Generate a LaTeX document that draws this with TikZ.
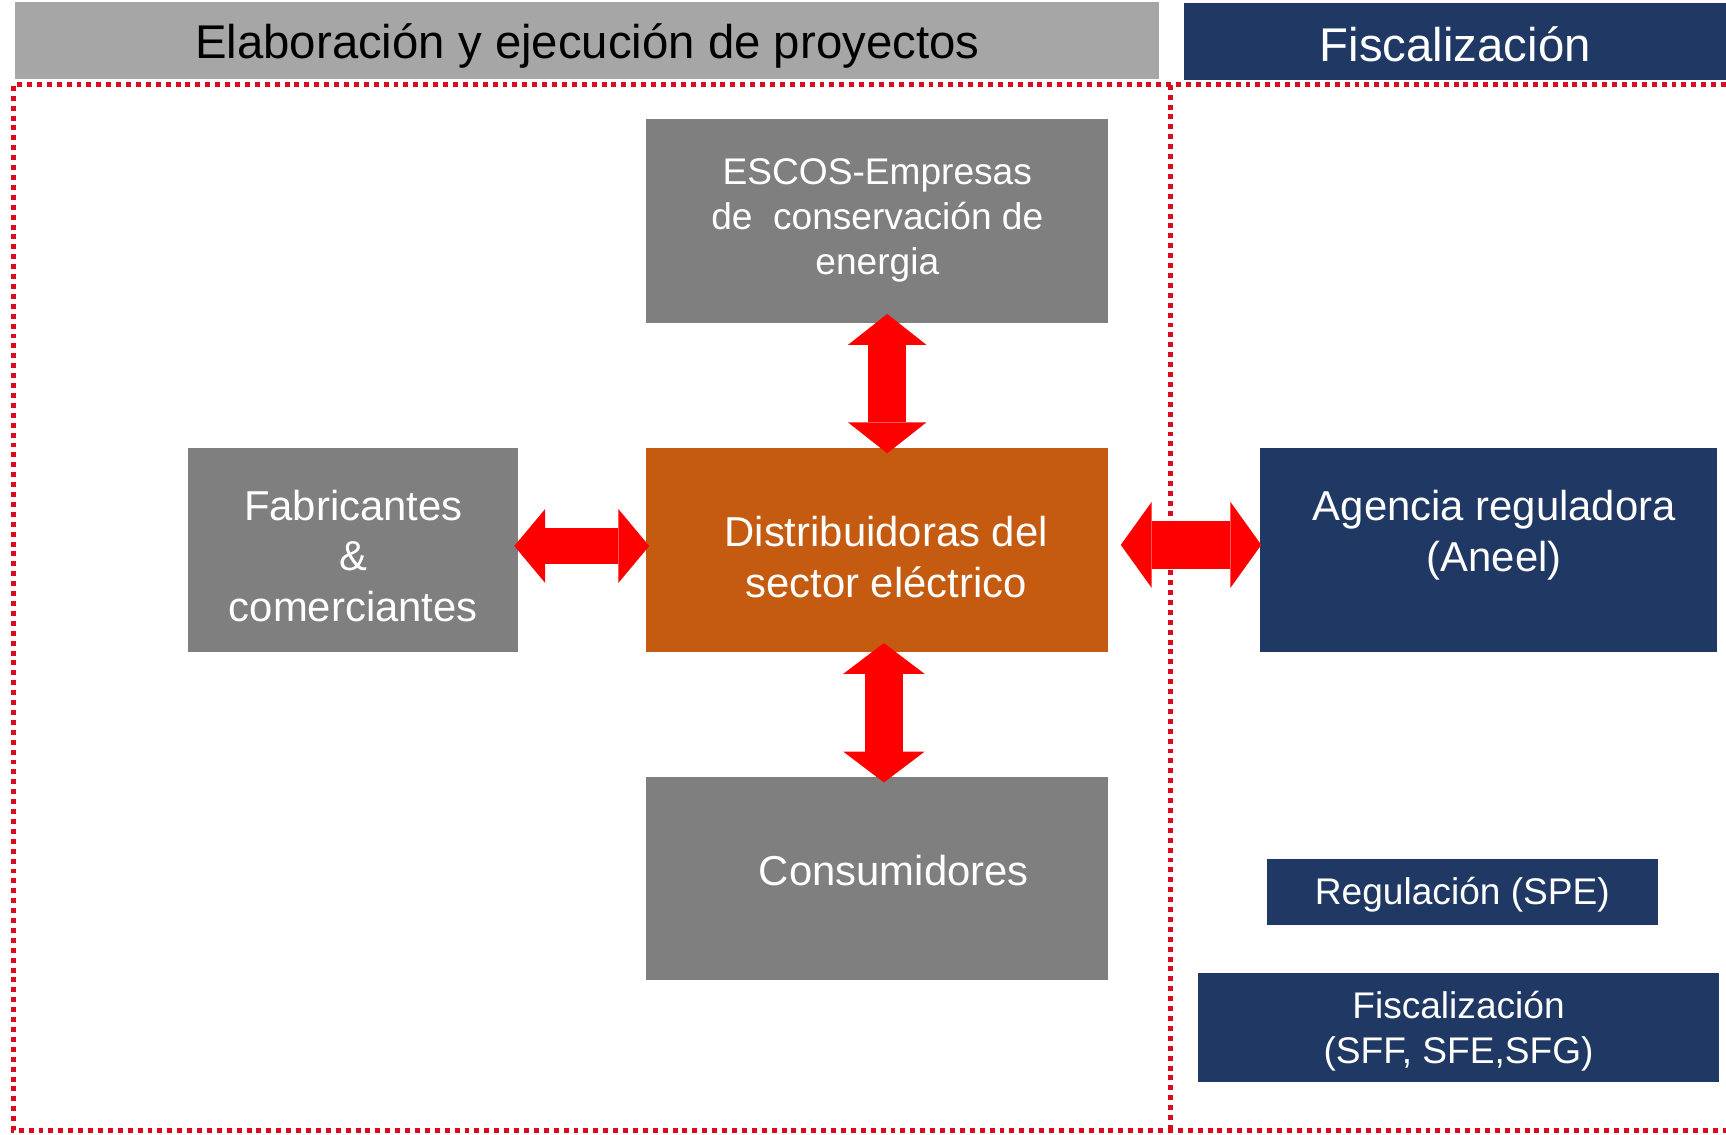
\documentclass[tikz,border=0pt]{standalone}
\usepackage{fontspec}
\setmainfont{Liberation Sans}
\usetikzlibrary{arrows.meta}
\definecolor{hgray}{HTML}{A6A6A6}
\definecolor{bgray}{HTML}{7F7F7F}
\definecolor{borange}{HTML}{C55A11}
\definecolor{navy}{HTML}{203864}
\definecolor{dotred}{HTML}{DC0A1E}
\begin{document}
\begin{tikzpicture}[x=1pt,y=-1pt,
  box/.style={rectangle, inner sep=0pt, text=white, align=center, font=\fontsize{38}{46}\selectfont},
  small/.style={font=\fontsize{33.7}{41}\selectfont},
  head/.style={font=\fontsize{43}{50}\selectfont, minimum height=70pt, text depth=0pt},
  reddots/.style={draw=dotred, line width=4.5pt, dash pattern=on 4.5pt off 4.5pt},
  twoway/.style 2 args={draw=red, line width=#1,
    {Triangle[width=#2,length=28pt,line width=0pt]}-{Triangle[width=#2,length=28pt,line width=0pt]}}]
\useasboundingbox (0,0) rectangle (1568,1031);
\node[box, head, fill=hgray, text=black, minimum width=1039pt, text height=33pt] (h1) at (533.5,37) {Elaboración y ejecución de proyectos};
\node[box, head, fill=navy, minimum width=492pt, text height=35pt] (h2) at (1322,38) {Fiscalización};
\draw[reddots] (1568,77) -- (12,77) -- (12,1027) -- (1568,1027);
\draw[reddots] (1063,77) -- (1063,1027);
\node[box, small, fill=bgray, minimum width=420pt, minimum height=185pt] (esc) at (797,200.5) {ESCOS-Empresas\\de\ \ conservación de\\energia};
\node[box, fill=bgray, minimum width=300pt, minimum height=185pt, text height=130pt, text depth=0pt] (fab) at (321,499.5) {Fabricantes\\\&\\comerciantes};
\node[box, fill=borange, minimum width=420pt, minimum height=185pt, text height=86pt, text depth=0pt] (dis) at (797,499.5) {\hspace*{16pt}Distribuidoras del\\\hspace*{16pt}sector eléctrico};
\node[box, fill=bgray, minimum width=420pt, minimum height=184pt, text height=27pt, text depth=14pt] (con) at (797,798) {\hspace*{30pt}Consumidores};
\node[box, fill=navy, minimum width=415pt, minimum height=185pt, text depth=34pt] (age) at (1352.5,499.5) {\hspace*{10pt}Agencia reguladora\\\hspace*{10pt}(Aneel)};
\node[box, small, fill=navy, minimum width=355pt, minimum height=60pt, text height=24pt, text depth=0pt] (reg) at (1328.5,810) {Regulación (SPE)};
\node[box, small, fill=navy, minimum width=474pt, minimum height=99pt, text depth=0pt] (fis) at (1325,933.5) {Fiscalización\\(SFF, SFE,SFG)};
\draw[twoway={35pt}{71pt}, shorten <=-8pt, shorten >=-5pt] ([xshift=9pt]esc.south) -- ([xshift=9pt]dis.north);
\draw[twoway={33pt}{67pt}, shorten <=-4pt, shorten >=-3pt] ([yshift=3.5pt]fab.east) -- ([yshift=3.5pt]dis.west);
\draw[twoway={35pt}{74pt}, shorten <=-8pt, shorten >=-5pt] ([xshift=6pt]dis.south) -- ([xshift=6pt]con.north);
\draw[twoway={43pt}{78pt}, shorten <=11pt, shorten >=-1pt] ([yshift=4.5pt]dis.east) -- ([yshift=4.5pt]age.west);
\end{tikzpicture}
\end{document}
